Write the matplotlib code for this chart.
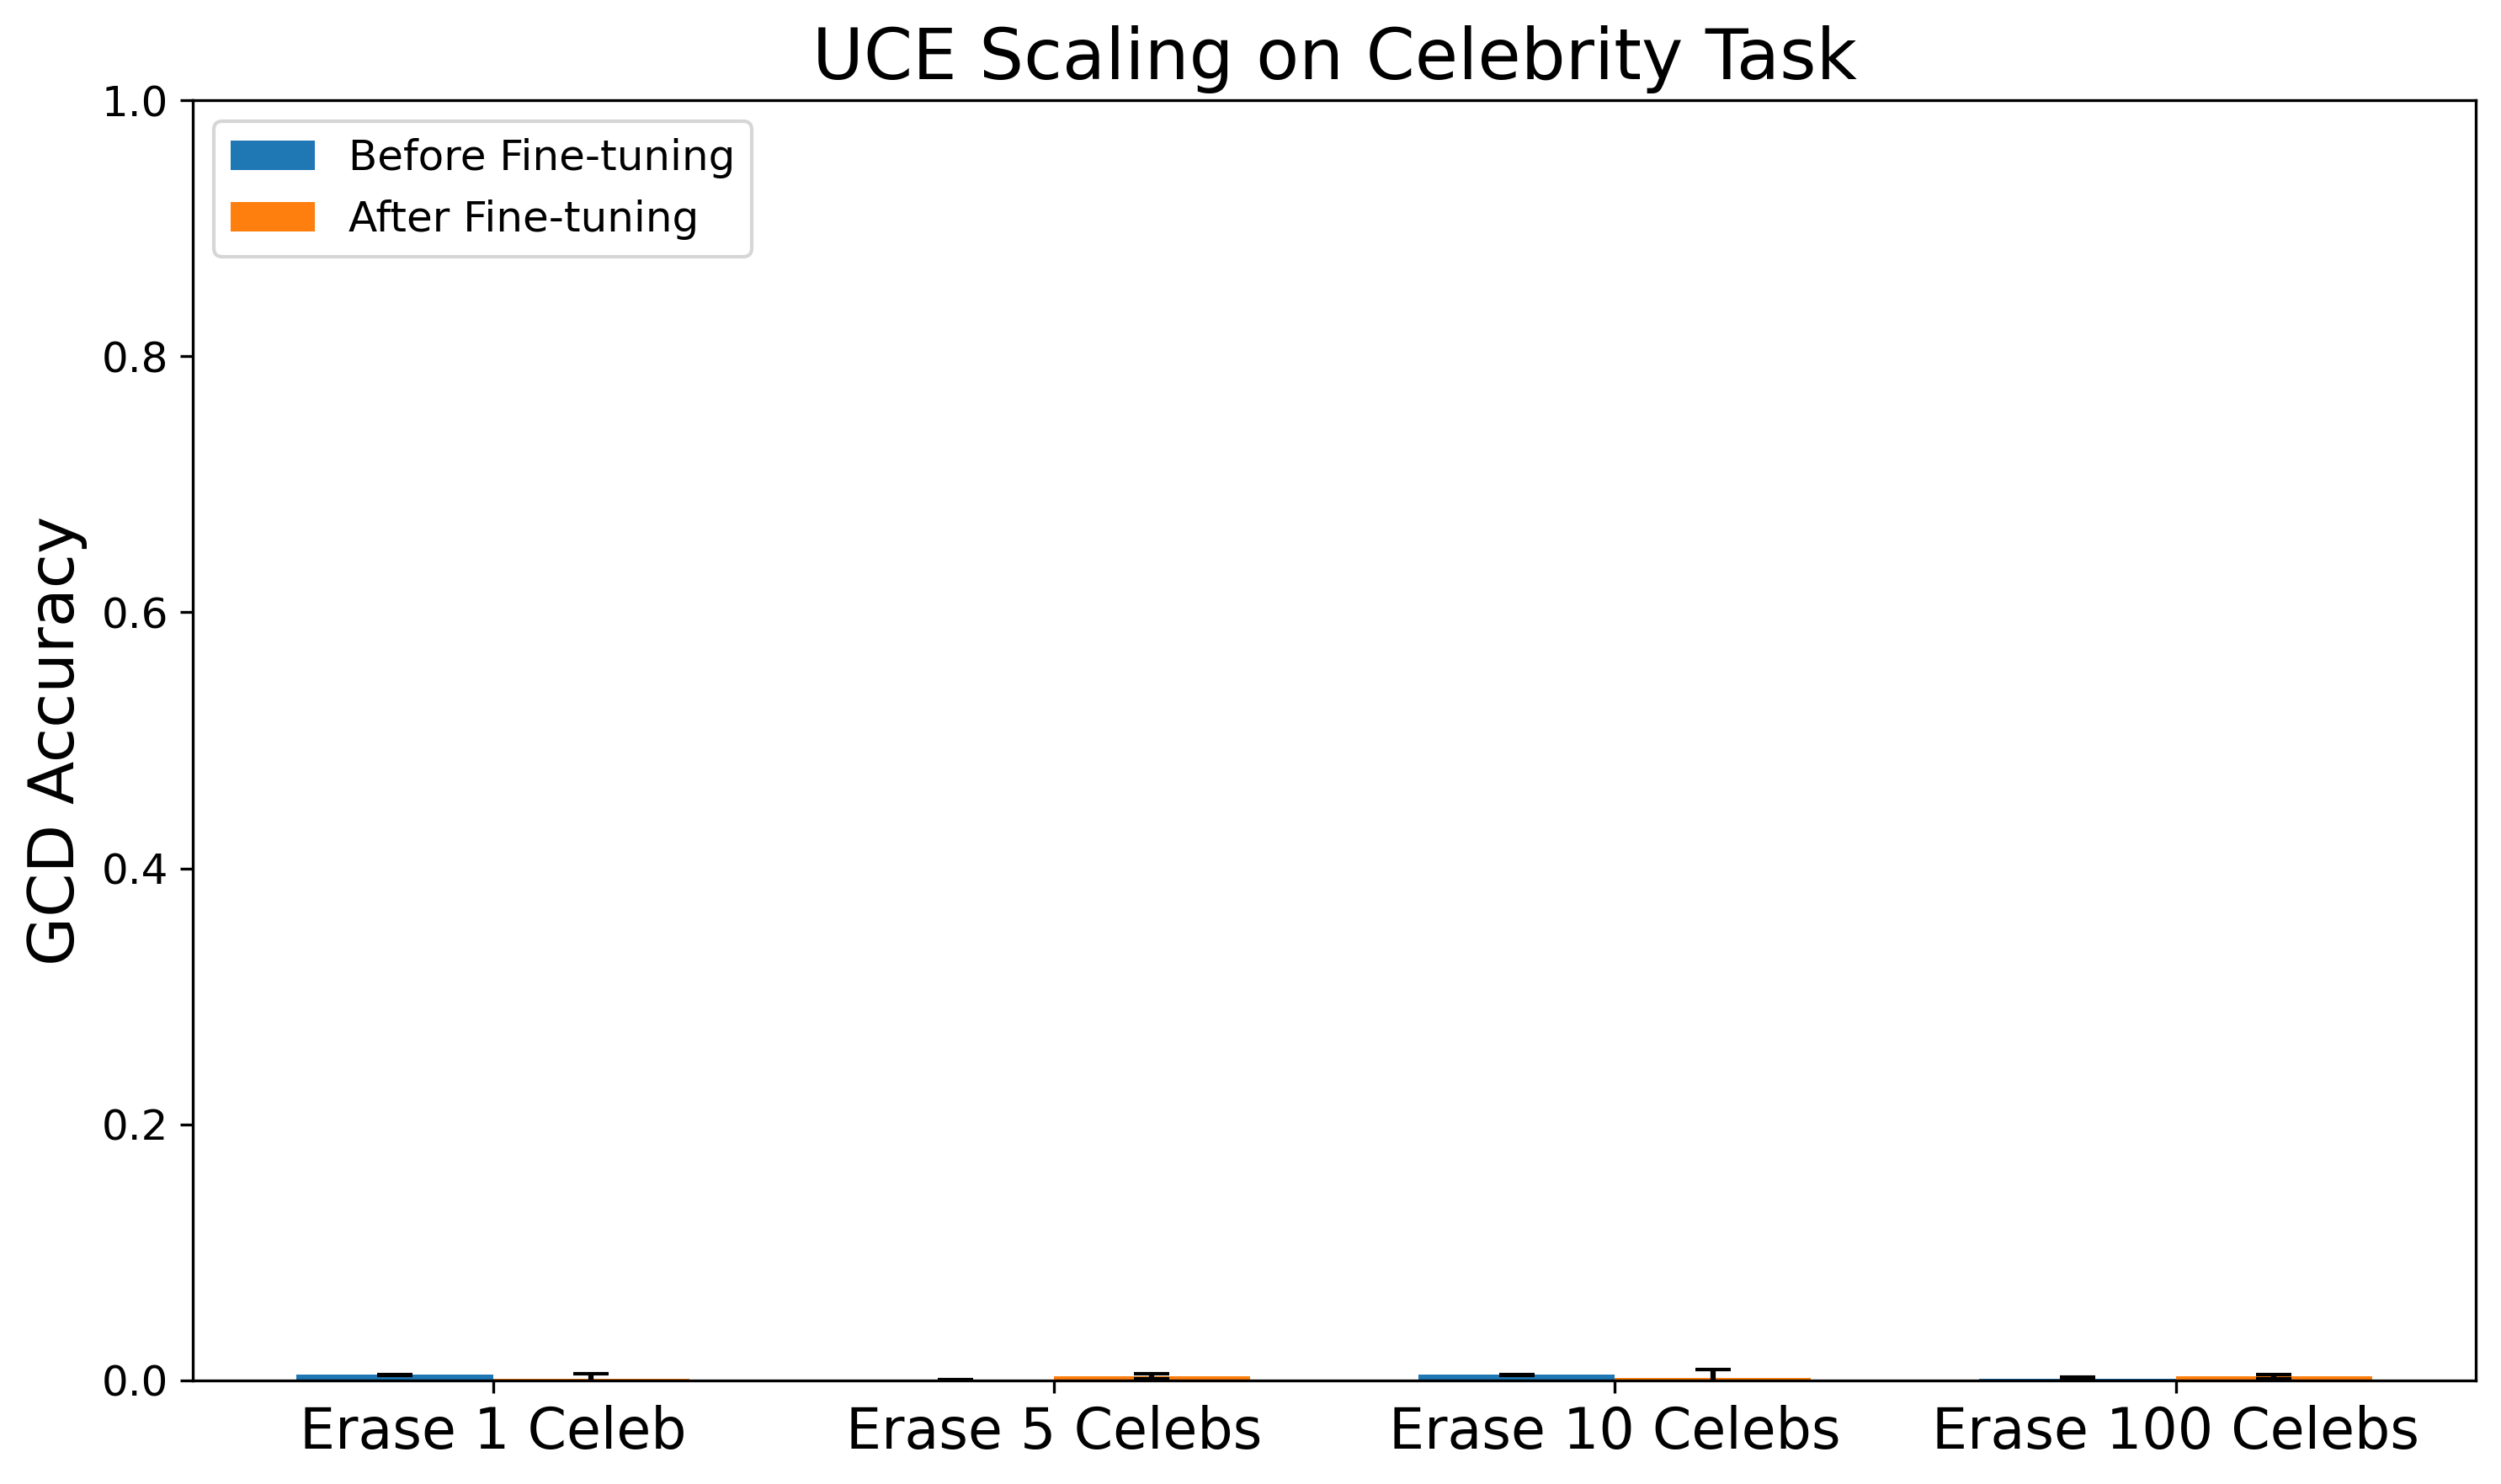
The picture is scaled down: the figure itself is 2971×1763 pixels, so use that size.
import numpy as np
import matplotlib
matplotlib.use("Agg")
import matplotlib.pyplot as plt

groups = ["Erase 1 Celeb", "Erase 5 Celebs", "Erase 10 Celebs", "Erase 100 Celebs"]
before = [0.0043, 0.0, 0.0043, 0.0015]
before_err = [0.0003, 0.0003, 0.0003, 0.001]
after = [0.0015, 0.003, 0.0022, 0.003]
after_err = [0.0035, 0.002, 0.006, 0.0016]

x = np.arange(len(groups))
width = 0.35

fig, ax = plt.subplots(figsize=(2971 / 300, 1763 / 300), dpi=300)
ax.bar(x - width / 2, before, width, yerr=before_err, capsize=5,
       color='#1f77b4', label='Before Fine-tuning')
ax.bar(x + width / 2, after, width, yerr=after_err, capsize=5,
       color='#ff7f0e', label='After Fine-tuning')

ax.set_title('UCE Scaling on Celebrity Task', fontsize=20)
ax.set_ylabel('GCD Accuracy', fontsize=18)
ax.set_xticks(x)
ax.set_xticklabels(groups, fontsize=16)
ax.tick_params(axis='y', labelsize=12)
ax.set_ylim(0, 1)
ax.legend(loc='upper left', fontsize=12)

fig.subplots_adjust(left=0.0771, right=0.9899, top=0.9325, bottom=0.0698)
fig.savefig('out.png', dpi=300)
plt.close(fig)
